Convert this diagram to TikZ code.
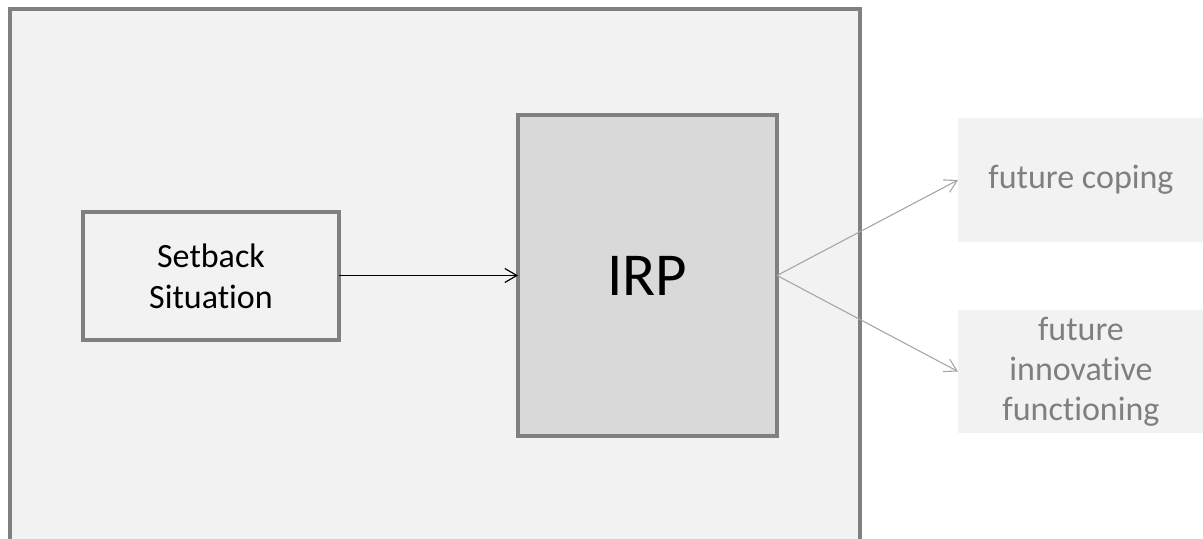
\documentclass[tikz,border=0pt]{standalone}
\usepackage{fontspec}
\setmainfont{Carlito}[RawFeature={-liga;-clig;-dlig;-calt;-rlig}]
\usetikzlibrary{arrows.meta}
\definecolor{boxfill}{HTML}{F2F2F2}
\definecolor{irpfill}{HTML}{D9D9D9}
\definecolor{boxline}{HTML}{808080}
\definecolor{outtext}{HTML}{7F7F7F}
\definecolor{graylink}{HTML}{A6A6A6}
\tikzset{
  frame/.style={draw=boxline, fill=boxfill, line width=4bp, inner sep=0pt, outer sep=0pt},
  smallbox/.style={draw=boxline, fill=boxfill, line width=3.5bp, inner sep=0pt, outer sep=0pt,
    align=center, font=\fontsize{34bp}{41bp}\selectfont},
  bigbox/.style={draw=boxline, fill=irpfill, line width=3.5bp, inner sep=0pt, outer sep=0pt,
    font=\fontsize{61bp}{70bp}\selectfont},
  outbox/.style={fill=boxfill, inner sep=0pt, outer sep=0pt, text=outtext,
    align=center, font=\fontsize{34bp}{40bp}\selectfont},
  darklink/.style={draw=black, line width=1.2bp, -{Straight Barb[length=12bp,width=14bp]}},
  lightlink/.style={draw=graylink, line width=1.1bp, -{Straight Barb[length=12bp,width=14bp]}}
}
\begin{document}
\begin{tikzpicture}[x=1bp,y=-1bp]
\useasboundingbox (0,0) rectangle (1203,539);
\clip (0,0) rectangle (1203,539);
\node[frame, minimum width=850bp, minimum height=540bp] (outer) at (435,279) {};
\node[smallbox, minimum width=256bp, minimum height=128bp] (setback) at (211,276) {Setback\\Situation};
\node[bigbox, minimum width=259bp, minimum height=321bp] (irp) at (647.5,275.5) {IRP};
\node[outbox, minimum width=246bp, minimum height=124bp] (coping) at (1081,180) {future coping};
\node[outbox, minimum width=246bp, minimum height=123bp] (innov) at (1081,371.5) {future\\innovative\\functioning};
\draw[darklink] (setback.east |- irp.west) -- (irp.west);
\draw[lightlink] (irp.east) -- (coping.west);
\draw[lightlink] (irp.east) -- (innov.west);
\end{tikzpicture}
\end{document}
